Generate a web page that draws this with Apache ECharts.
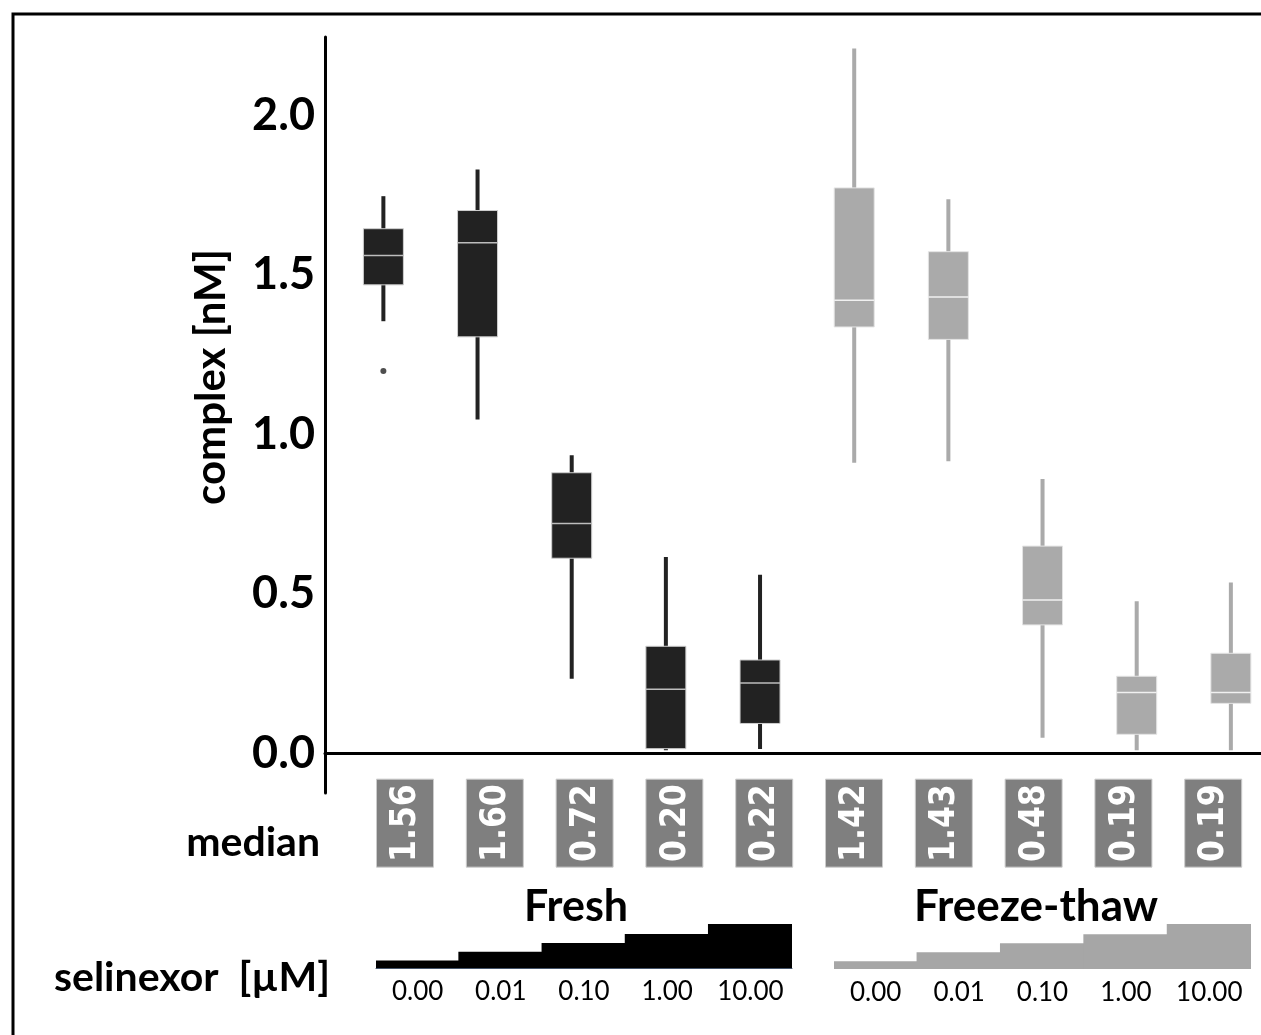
<!DOCTYPE html>
<html><head><meta charset="utf-8">
<script src="https://cdn.jsdelivr.net/npm/echarts@6/dist/echarts.min.js"></script>
<style>html,body{margin:0;padding:0;background:#fff}#c{width:1261px;height:1035px}</style>
</head><body><div id="c"></div><script>
// ---- data (nM) ----
const doses = ['0.00', '0.01', '0.10', '1.00', '10.00'];
const groupNames = ['Fresh', 'Freeze-thaw'];
const freshLow  = [1.354, 1.046, 0.233, 0.009, 0.013];
const freshQ1   = [1.468, 1.305, 0.611, 0.014, 0.093];
const freshMed  = [1.56, 1.60, 0.72, 0.20, 0.22];
const freshQ3   = [1.644, 1.701, 0.879, 0.335, 0.292];
const freshHigh = [1.746, 1.830, 0.934, 0.615, 0.559];
const freshOutliers = [[0, 1.198]];
const ftLow  = [0.910, 0.915, 0.048, 0.009, 0.009];
const ftQ1   = [1.336, 1.297, 0.402, 0.059, 0.156];
const ftMed  = [1.42, 1.43, 0.48, 0.19, 0.19];
const ftQ3   = [1.772, 1.572, 0.649, 0.241, 0.313];
const ftHigh = [2.209, 1.736, 0.859, 0.476, 0.535];
const doseLevel = [0.17, 0.37, 0.57, 0.77, 1.0];
const yTickValues = [0, 0.5, 1.0, 1.5, 2.0];

// ---- styles ----
const FRESH = '#222222', FT = '#aaaaaa';
const BOX_W = 40;
const FONT = 'Lato';

const freshRows = doses.map((d, i) => [i, freshLow[i], freshQ1[i], freshMed[i], freshQ3[i], freshHigh[i]]);
const ftRows = doses.map((d, i) => [i + doses.length, ftLow[i], ftQ1[i], ftMed[i], ftQ3[i], ftHigh[i]]);
const allMedians = freshMed.concat(ftMed);

function boxRenderer(color, medColor, edgeColor) {
  return function (params, api) {
    const x = api.value(0);
    const pLow = api.coord([x, api.value(1)]);
    const pQ1 = api.coord([x, api.value(2)]);
    const pMed = api.coord([x, api.value(3)]);
    const pQ3 = api.coord([x, api.value(4)]);
    const pHigh = api.coord([x, api.value(5)]);
    const h = BOX_W / 2;
    return {
      type: 'group', children: [
        { type: 'line', shape: { x1: pLow[0], y1: pLow[1], x2: pHigh[0], y2: pHigh[1] }, style: { stroke: color, lineWidth: 4 } },
        { type: 'rect', shape: { x: pQ3[0] - h, y: pQ3[1], width: BOX_W, height: pQ1[1] - pQ3[1] }, style: { fill: color, stroke: edgeColor, lineWidth: 1 } },
        { type: 'line', shape: { x1: pMed[0] - h, y1: pMed[1], x2: pMed[0] + h, y2: pMed[1] }, style: { stroke: medColor, lineWidth: 1.5 } }
      ]
    };
  };
}

const chart = echarts.init(document.getElementById('c'), null, { renderer: 'canvas' });
chart.setOption({
  animation: false,
  backgroundColor: '#ffffff',
  grid: [
    { left: 325, top: 37, right: 0, height: 756 },
    { left: 376, top: 924, width: 416, height: 44 },
    { left: 834, top: 924, width: 417, height: 45 }
  ],
  xAxis: [
    { gridIndex: 0, type: 'value', min: -0.62, max: 9.32,
      axisLine: { show: true, onZero: true, lineStyle: { color: '#000', width: 3 } },
      axisTick: { show: false }, axisLabel: { show: false }, splitLine: { show: false } },
    { gridIndex: 0, type: 'value', min: -0.891, max: 9.532, show: false },
    { gridIndex: 1, type: 'category', data: doses,
      axisLine: { show: true, lineStyle: { color: '#44546a', width: 1 } },
      axisTick: { show: false },
      axisLabel: { interval: 0, fontFamily: FONT, fontSize: 26, color: '#000', margin: 11 } },
    { gridIndex: 2, type: 'category', data: doses,
      axisLine: { show: false }, axisTick: { show: false },
      axisLabel: { interval: 0, fontFamily: FONT, fontSize: 26, color: '#000', margin: 11 } }
  ],
  yAxis: [
    { gridIndex: 0, type: 'value', min: -0.125, max: 2.245, interval: 0.125,
      axisLine: { show: true, onZero: false, lineStyle: { color: '#000', width: 3 } },
      axisTick: { show: false }, splitLine: { show: false },
      axisLabel: {
        showMinLabel: false, showMaxLabel: false, margin: 10,
        fontFamily: FONT, fontWeight: 'bold', fontSize: 45, color: '#000',
        formatter: v => yTickValues.some(t => Math.abs(t - v) < 1e-6) ? v.toFixed(1) : ''
      } },
    { gridIndex: 1, type: 'value', min: 0, max: 1, show: false },
    { gridIndex: 2, type: 'value', min: 0, max: 1, show: false }
  ],
  series: [
    { name: groupNames[0], type: 'custom', xAxisIndex: 0, yAxisIndex: 0, data: freshRows,
      encode: { x: 0, y: [1, 2, 3, 4, 5] }, renderItem: boxRenderer(FRESH, '#bdbdbd', '#cfcfcf') },
    { name: groupNames[1], type: 'custom', xAxisIndex: 0, yAxisIndex: 0, data: ftRows,
      encode: { x: 0, y: [1, 2, 3, 4, 5] }, renderItem: boxRenderer(FT, '#f0f0f0', '#e4e4e4') },
    { name: 'outliers', type: 'scatter', xAxisIndex: 0, yAxisIndex: 0, data: freshOutliers,
      symbolSize: 6, itemStyle: { color: FRESH } },
    { name: 'median', type: 'custom', xAxisIndex: 1, yAxisIndex: 0, clip: false,
      data: allMedians.map((m, i) => [i, m]),
      renderItem: function (params, api) {
        const x = api.coord([api.value(0), 0])[0];
        const top = api.coord([0, 0])[1] + 26;
        return {
          type: 'group', children: [
            { type: 'rect', shape: { x: x - 28.5, y: top, width: 57, height: 88 }, style: { fill: '#7f7f7f', stroke: '#cccccc', lineWidth: 1 } },
            { type: 'text', x: x + 1, y: top + 44, rotation: Math.PI / 2,
              style: { text: api.value(1).toFixed(2), fill: '#ffffff', font: 'bold 35px "DejaVu Sans Condensed", "DejaVu Sans"', align: 'center', verticalAlign: 'middle' } }
          ]
        };
      } },
    { name: 'Fresh dose', type: 'bar', xAxisIndex: 2, yAxisIndex: 1, data: doseLevel,
      barWidth: '102%', barGap: '-100%', itemStyle: { color: '#000000' } },
    { name: 'Freeze-thaw dose', type: 'bar', xAxisIndex: 3, yAxisIndex: 2, data: doseLevel,
      barWidth: '102%', barGap: '-100%', itemStyle: { color: '#a6a6a6' } }
  ],
  graphic: [
    { type: 'rect', shape: { x: 13, y: 14, width: 1300, height: 1100 }, style: { fill: 'none', stroke: '#000', lineWidth: 3 }, silent: true },
    { type: 'text', x: 211, y: 377, rotation: Math.PI / 2,
      style: { text: 'complex [nM]', font: 'bold 42px Lato', fill: '#000', align: 'center', verticalAlign: 'middle' } },
    { type: 'text', x: 320, y: 843,
      style: { text: 'median', font: 'bold 41px Lato', fill: '#000', align: 'right', verticalAlign: 'middle' } },
    { type: 'text', x: 192, y: 978,
      style: { text: 'selinexor  [µM]', font: 'bold 41px Lato', fill: '#000', align: 'center', verticalAlign: 'middle' } },
    { type: 'text', x: 576, y: 907,
      style: { text: groupNames[0], font: 'bold 43px Lato', fill: '#000', align: 'center', verticalAlign: 'middle' } },
    { type: 'text', x: 1036, y: 907,
      style: { text: groupNames[1], font: 'bold 44px Lato', fill: '#000', align: 'center', verticalAlign: 'middle' } }
  ]
});
</script></body></html>
